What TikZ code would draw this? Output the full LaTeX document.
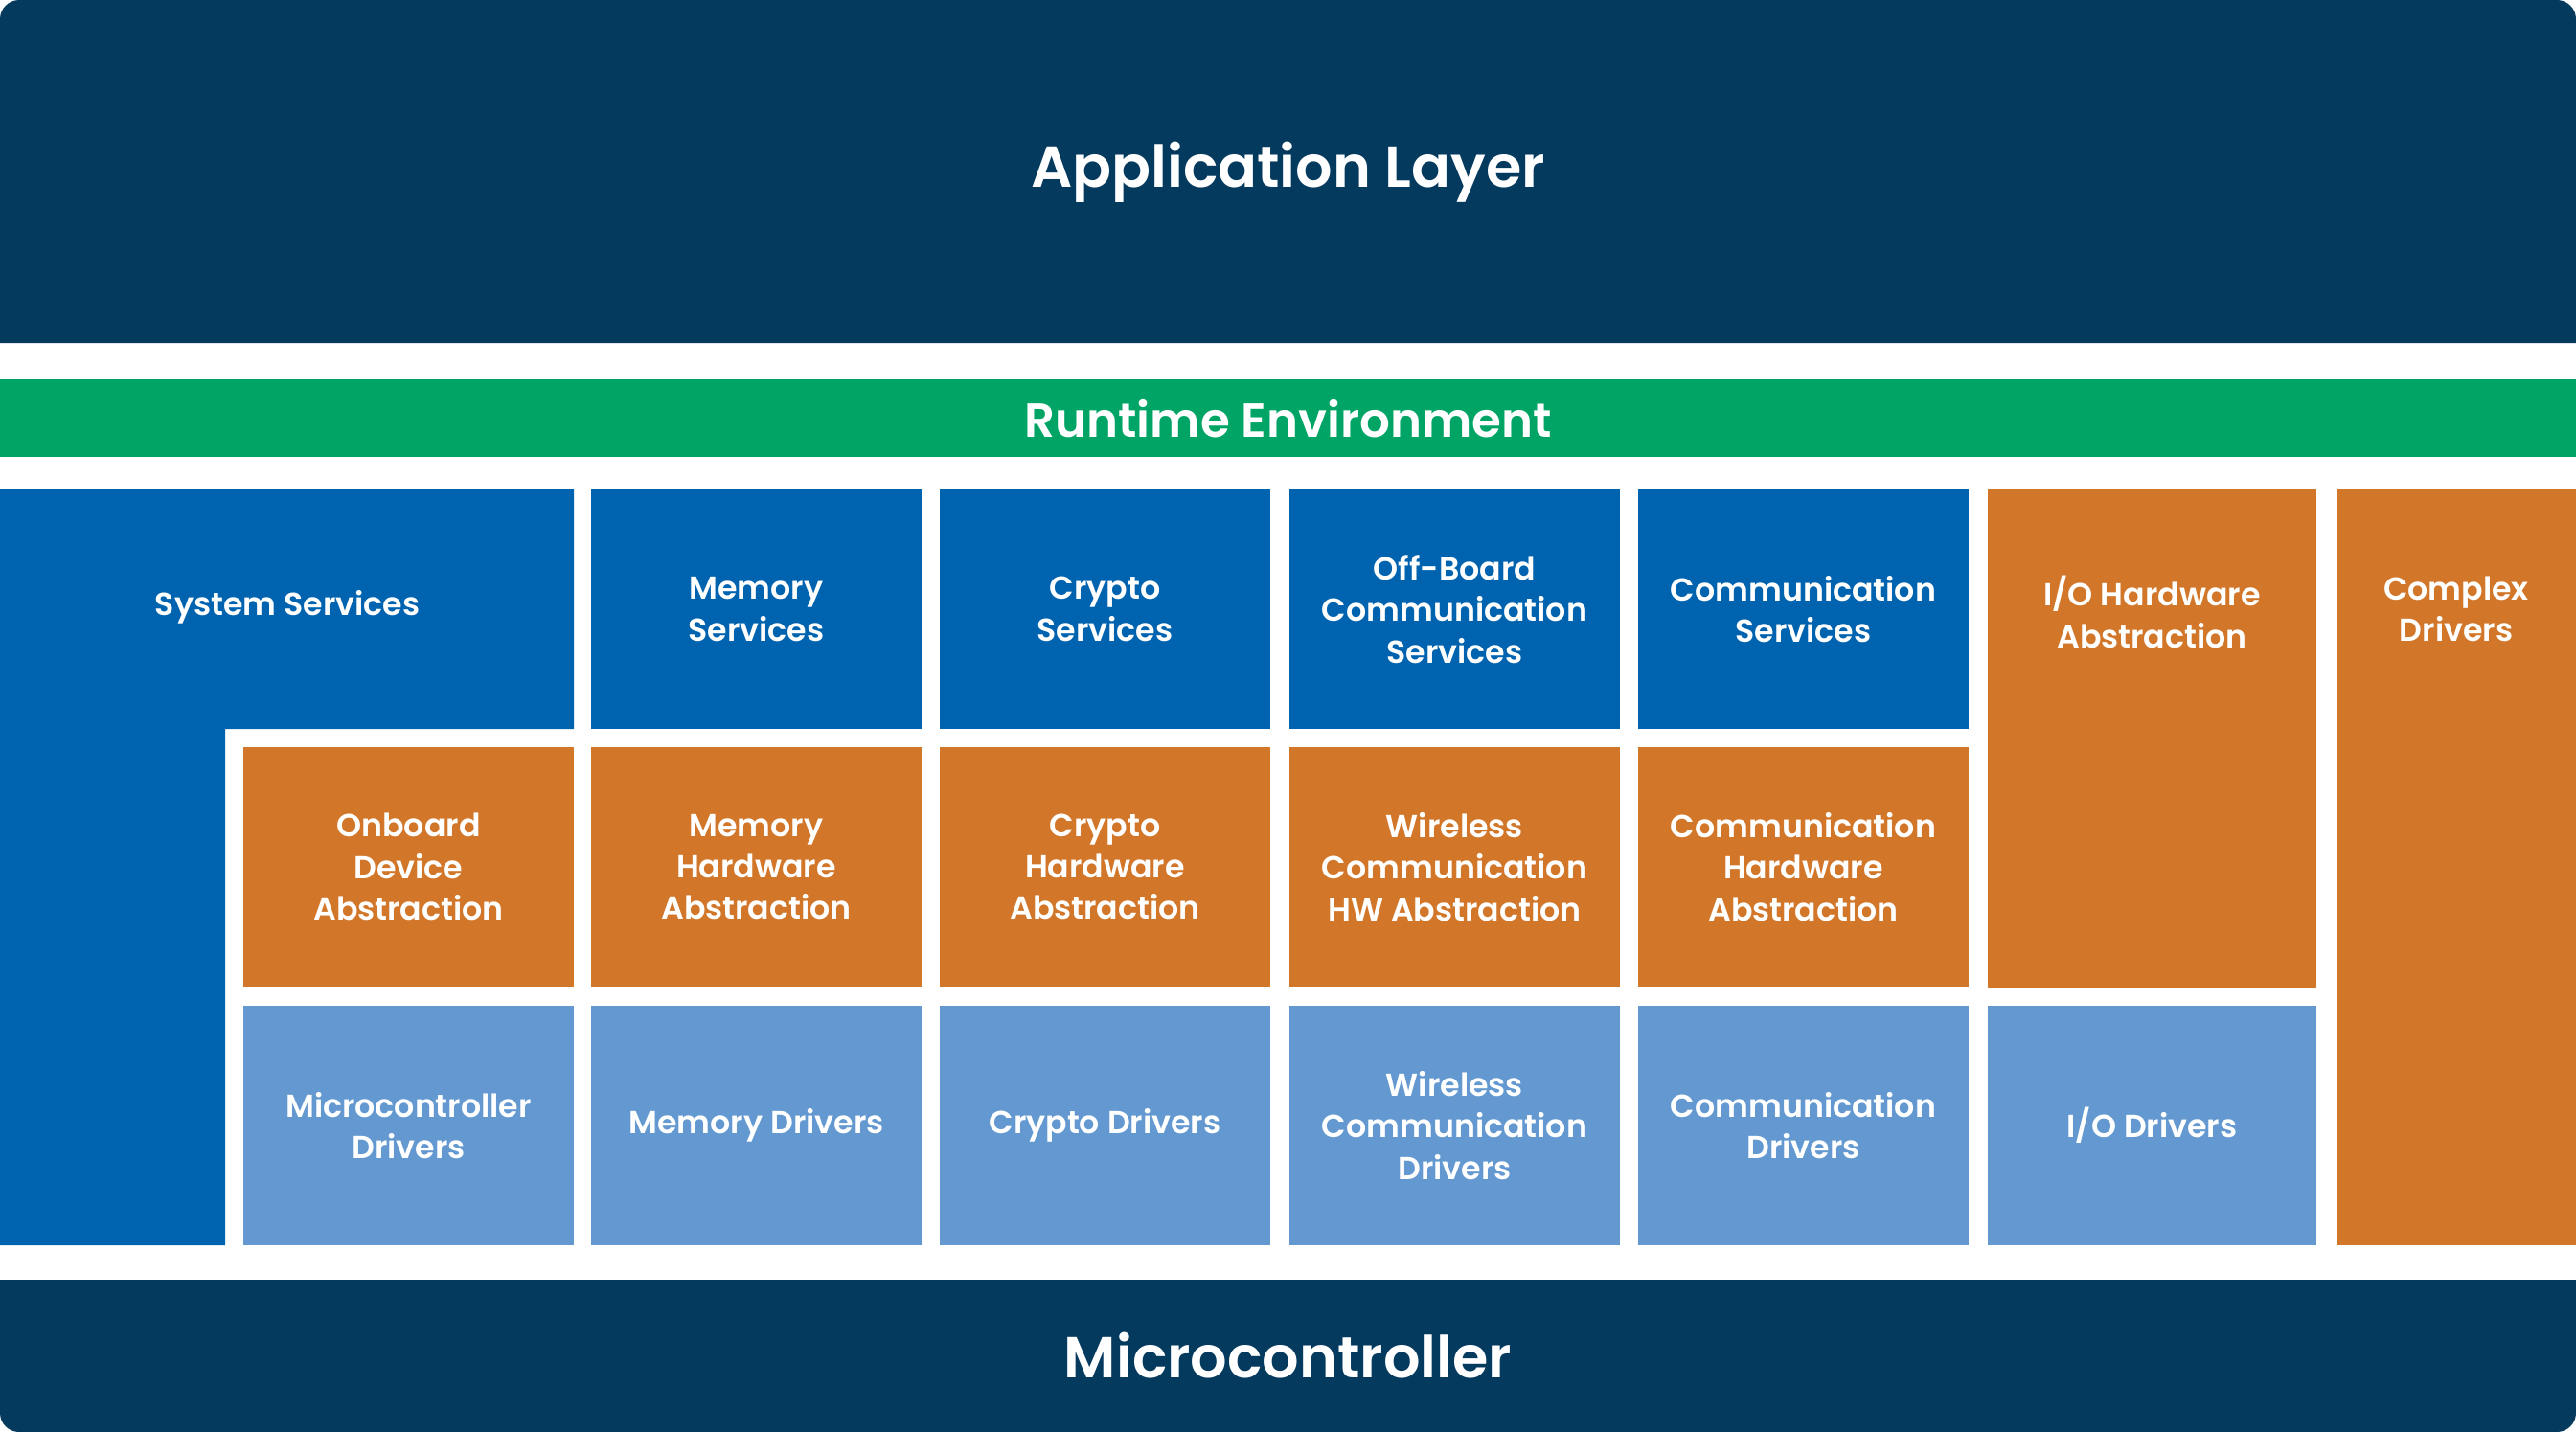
\documentclass[tikz,border=0pt]{standalone}
\usepackage{fontspec}
\setmainfont{Poppins}[UprightFont=* Medium, BoldFont=* SemiBold]
\usepackage{tikz}

\definecolor{navy}{RGB}{5,58,95}
\definecolor{rtegreen}{RGB}{0,165,102}
\definecolor{svcblue}{RGB}{0,99,175}
\definecolor{hworange}{RGB}{210,119,42}
\definecolor{drvblue}{RGB}{99,153,208}

\tikzset{
	blk/.style={rectangle, inner sep=0pt, outer sep=0pt, anchor=north west,
		minimum width=34.5mm, minimum height=25mm, text=white, align=center,
		font=\fontsize{9.45}{12.3}\selectfont\bfseries},
	svc/.style={blk, fill=svcblue},
	hwa/.style={blk, fill=hworange},
	drv/.style={blk, fill=drvblue},
	txt/.style={text=white, align=center, inner sep=0pt, font=\fontsize{9.45}{12.3}\selectfont\bfseries},
	bigtxt/.style={text=white, inner sep=0pt, font=\fontsize{17.2}{20}\selectfont\bfseries}
}

\begin{document}
\begin{tikzpicture}
			\useasboundingbox (0mm,0mm) rectangle (268.9mm,-149.5mm);
			
			\fill[navy] (0mm,-35.8mm) -- (0mm,-2mm) arc[start angle=180, end angle=90, radius=2mm]
			-- (266.9mm,0mm) arc[start angle=90, end angle=0, radius=2mm] -- (268.9mm,-35.8mm) -- cycle;
			\node[bigtxt] (app) at (134.45mm,-18mm) {Application Layer};
			
			\fill[rtegreen] (0mm,-39.6mm) rectangle (268.9mm,-47.7mm);
			\node[bigtxt, font=\fontsize{14.2}{17}\selectfont\bfseries] (rte) at (134.45mm,-43.7mm) {Runtime Environment};
			
			\fill[svcblue] (0mm,-51.1mm) -- (59.9mm,-51.1mm) -- (59.9mm,-76.1mm) -- (23.5mm,-76.1mm)
			-- (23.5mm,-130mm) -- (0mm,-130mm) -- cycle;
			\node[txt] (syssvc) at (30mm,-63.4mm) {System Services};
			
			\node[svc] (memsvc) at (61.7mm,-51.1mm) {Memory\\Services};
			\node[svc] (cryptosvc) at (98.1mm,-51.1mm) {Crypto\\Services};
			\node[svc] (offboard) at (134.6mm,-51.1mm) {Off-Board\\Communication\\Services};
			\node[svc] (comsvc) at (171mm,-51.1mm) {Communication\\Services};
			
			\node[hwa] (onboard) at (25.4mm,-78mm) {Onboard\\Device\\Abstraction};
			\node[hwa] (memhw) at (61.7mm,-78mm) {Memory\\Hardware\\Abstraction};
			\node[hwa] (cryptohw) at (98.1mm,-78mm) {Crypto\\Hardware\\Abstraction};
			\node[hwa] (wirelesshw) at (134.6mm,-78mm) {Wireless\\Communication\\HW Abstraction};
			\node[hwa] (comhw) at (171mm,-78mm) {Communication\\Hardware\\Abstraction};
			
			\node[drv] (mcudrv) at (25.4mm,-105mm) {Microcontroller\\Drivers};
			\node[drv] (memdrv) at (61.7mm,-105mm) {Memory Drivers};
			\node[drv] (cryptodrv) at (98.1mm,-105mm) {Crypto Drivers};
			\node[drv] (wirelessdrv) at (134.6mm,-105mm) {Wireless\\Communication\\Drivers};
			\node[drv] (comdrv) at (171mm,-105mm) {Communication\\Drivers};
			\node[drv, minimum width=34.3mm] (iodrv) at (207.5mm,-105mm) {I/O Drivers};
			
			\node[hwa, minimum width=34.3mm, minimum height=52mm] (iohw) at (207.5mm,-51.1mm) {};
			\node[txt] (iohwtxt) at ([yshift=-0.3mm]iohw.center |- offboard.center) {I/O Hardware\\Abstraction};
			\node[hwa, minimum width=25mm, minimum height=78.9mm] (cdd) at (243.9mm,-51.1mm) {};
			\node[txt] (cddtxt) at (cdd.center |- offboard.center) {Complex\\Drivers};
			
			\fill[navy] (0mm,-133.6mm) -- (268.9mm,-133.6mm) -- (268.9mm,-147.5mm)
			arc[start angle=0, end angle=-90, radius=2mm] -- (2mm,-149.5mm)
			arc[start angle=270, end angle=180, radius=2mm] -- cycle;
			\node[bigtxt] (mcu) at (134.45mm,-141.5mm) {Microcontroller};
		\end{tikzpicture}
\end{document}
